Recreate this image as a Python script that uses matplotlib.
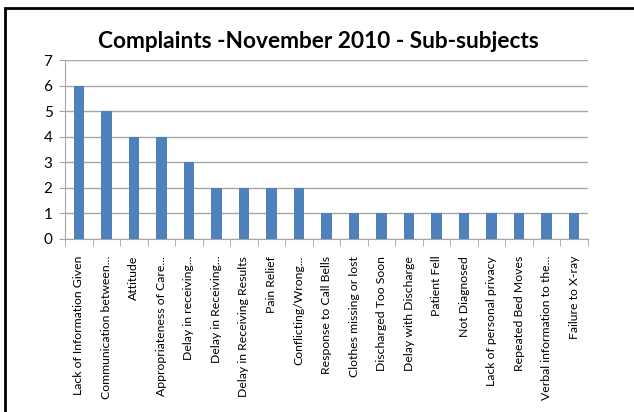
import matplotlib
matplotlib.use("Agg")
import matplotlib.pyplot as plt
from matplotlib.patches import Rectangle
import numpy as np

# Complaints by sub-subject, November 2010
categories = [
    "Lack of Information Given",
    "Communication between...",
    "Attitude",
    "Appropriateness of Care...",
    "Delay in receiving...",
    "Delay in Receiving...",
    "Delay in Receiving Results",
    "Pain Relief",
    "Conflicting/Wrong...",
    "Response to Call Bells",
    "Clothes missing or lost",
    "Discharged Too Soon",
    "Delay with Discharge",
    "Patient Fell",
    "Not Diagnosed",
    "Lack of personal privacy",
    "Repeated Bed Moves",
    "Verbal information to the...",
    "Failure to X-ray",
]
counts = [6, 5, 4, 4, 3, 2, 2, 2, 2, 1, 1, 1, 1, 1, 1, 1, 1, 1, 1]
y_ticks = [0, 1, 2, 3, 4, 5, 6, 7]

plt.rcParams["font.family"] = ["Lato", "DejaVu Sans"]

W, H = 634, 412
fig = plt.figure(figsize=(W / 100, H / 100), dpi=100)
ax = fig.add_axes([65 / W, 1 - 239 / H, (588 - 65) / W, (239 - 60) / H])

x = np.arange(len(categories))
ax.bar(x, counts, width=0.38, color="#4F81BD", zorder=3)

ax.set_xlim(-0.5, len(categories) - 0.5)
ax.set_ylim(0, 7)
ax.set_yticks(y_ticks)
ax.yaxis.grid(True, color="#A6A6A6", linewidth=1.0, zorder=0)
ax.tick_params(axis="y", labelsize=11, length=4, color="#A6A6A6", pad=5)

ax.set_xticks(x)
ax.set_xticklabels(categories, rotation=90, fontsize=8.8, va="top", ha="center")
ax.tick_params(axis="x", which="major", length=0, pad=12)
ax.set_xticks(np.arange(-0.5, len(categories), 1.0), minor=True)
ax.tick_params(axis="x", which="minor", length=5, color="#A6A6A6")

for s in ("top", "right"):
    ax.spines[s].set_visible(False)
for s in ("left", "bottom"):
    ax.spines[s].set_color("#A6A6A6")

fig.text(318 / W, 1 - 42 / H, "Complaints -November 2010 - Sub-subjects",
         ha="center", va="center", fontsize=16.3, fontweight="bold")

# outer chart border (cut off at right and bottom)
fig.patches.append(Rectangle((4.5 / W, -0.1), 1.1, 1.1 - 8.5 / H,
                             transform=fig.transFigure, fill=False,
                             edgecolor="black", linewidth=2.0))

fig.savefig("out.png", dpi=100)
